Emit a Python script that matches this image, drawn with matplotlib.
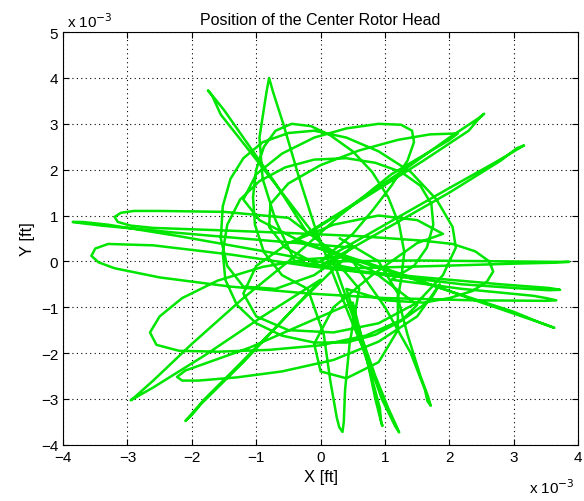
import matplotlib
matplotlib.use("Agg")
import matplotlib.pyplot as plt

plt.rcParams['font.family'] = ['Liberation Sans', 'DejaVu Sans']

# rotor head path, units of 1e-3 ft
seg1_x = [0.3, -0.5, -1.5, -2.5, -2.9, -3.1, -3.2, -3.15, -2.95, -2.6, -1.6, -0.5, 0.6, 1.6]
seg1_y = [0.1, 0.95, 1.08, 1.1, 1.1, 1.06, 0.97, 0.86, 0.78, 0.73, 0.68, 0.62, 0.55, 0.45]
seg2_x = [2.05, 2.4, 2.62, 2.68, 2.58, 2.35, 2.0, 1.6, 1.0, 0.4]
seg2_y = [0.38, 0.22, 0.0, -0.22, -0.45, -0.65, -0.8, -0.9, -0.85, -0.6]
seg3_x = [0.6, 0.85, 1.05, 1.18, 1.22, 1.16, 0.95, 0.75, 0.45, 0.2]
seg3_y = [-1.5, -2.5, -3.2, -3.6, -3.73, -3.6, -3.0, -2.2, -1.2, -0.3]
seg4_x = [-0.1, -0.35, -0.58, -0.74, -0.8, -0.84, -0.95, -0.9, -0.7, -0.4]
seg4_y = [0.8, 1.9, 3.0, 3.7, 4.0, 3.7, 2.7, 1.8, 0.9, 0.0]
seg5_x = [0.5, 1.6, 2.8, 3.55, 3.72, 3.55, 3.2, 2.2, 1.0, -0.2]
seg5_y = [-0.2, -0.35, -0.5, -0.58, -0.62, -0.63, -0.6, -0.5, -0.3, -0.1]
seg6_x = [-1.4, -2.6, -3.3, -3.5, -3.56, -3.45, -3.2, -2.5, -1.4, -0.2, 1.0, 2.4, 3.5, 3.66, 3.5, 3.3, 2.2, 1.1]
seg6_y = [0.15, 0.35, 0.38, 0.28, 0.12, -0.02, -0.15, -0.35, -0.55, -0.7, -0.8, -0.85, -0.86, -0.85, -0.8, -0.75, -0.6, -0.4]
seg7_x = [1.45, 1.65, 1.75, 1.72, 1.55, 1.25, 0.85, 0.4, -0.1, -0.55, -0.95, -1.25, -1.45, -1.52, -1.48, -1.3, -1.0, -0.6, -0.1, 0.4, 0.85, 1.25, 1.5]
seg7_y = [-0.1, 0.3, 0.8, 1.25, 1.65, 1.95, 2.15, 2.25, 2.22, 2.05, 1.75, 1.35, 0.8, 0.2, -0.4, -0.95, -1.35, -1.62, -1.77, -1.77, -1.6, -1.3, -0.95]
seg8_x = [0.8, 0.0, 1.2, 2.4, 3.5, 3.63, 3.45, 3.0, 1.9, 0.7, -0.4]
seg8_y = [-0.2, 0.3, -0.25, -0.85, -1.38, -1.45, -1.36, -1.1, -0.6, -0.05, 0.45]
seg9_x = [0.4, 1.3, 2.0, 2.45, 2.54, 2.45, 2.3, 1.6, 0.7, -0.2]
seg9_y = [1.15, 2.0, 2.7, 3.12, 3.22, 3.1, 2.85, 2.2, 1.4, 0.6]
seg10_x = [-0.7, -1.15, -1.5, -1.7, -1.75, -1.68, -1.55, -1.1, -0.6, 0.0, 0.6]
seg10_y = [1.7, 2.6, 3.3, 3.65, 3.73, 3.6, 3.2, 2.4, 1.5, 0.4, -0.6]
seg11_x = [0.45, 0.38, 0.36, 0.34, 0.29, 0.25, 0.15, 0.05, -0.2]
seg11_y = [-1.8, -2.8, -3.5, -3.72, -3.62, -3.4, -2.6, -1.6, -0.6]
seg12_x = [-0.6, -0.88, -1.02, -1.05, -1.0, -0.88, -0.7, -0.45, -0.15, 0.15, 0.5, 0.8, 1.05, 1.22, 1.3, 1.25, 1.2]
seg12_y = [-0.3, 0.2, 0.8, 1.4, 2.0, 2.5, 2.85, 3.0, 2.95, 2.75, 2.4, 1.95, 1.4, 0.8, 0.2, -0.4, -0.8]
seg13_x = [1.35, 1.55, 1.67, 1.71, 1.66, 1.62, 1.4, 1.0, 0.5]
seg13_y = [-1.6, -2.5, -2.95, -3.15, -3.05, -2.8, -2.0, -1.0, 0.0]
seg14_x = [-0.4, -0.95, -1.2, -1.0, -0.6, -0.1, 0.4, 0.9, 1.25, 1.42, 1.45, 1.35, 1.1, 0.8, 0.5]
seg14_y = [0.5, 0.9, 1.35, 1.9, 2.35, 2.7, 2.9, 3.0, 2.98, 2.85, 2.6, 2.2, 1.65, 1.1, 0.6]
seg15_x = [0.0, 1.0, 2.0, 2.7, 3.05, 3.16, 3.05, 2.8, 2.0, 1.0, 0.0]
seg15_y = [0.0, 0.8, 1.6, 2.15, 2.44, 2.53, 2.47, 2.2, 1.5, 0.7, -0.1]
seg16_x = [-0.55, -0.8, -0.78, -0.5, 0.0, 0.6, 1.2, 1.7, 2.13, 2.0, 1.7, 1.1, 0.3, -0.5]
seg16_y = [0.3, 0.75, 1.25, 1.7, 2.1, 2.42, 2.65, 2.77, 2.79, 2.65, 2.4, 1.9, 1.0, 0.0]
seg17_x = [-1.2, -2.0, -2.6, -2.88, -2.95, -2.85, -2.6, -1.8, -0.9, 0.0]
seg17_y = [-0.8, -1.8, -2.6, -2.95, -3.03, -2.95, -2.75, -2.05, -1.2, -0.4]
seg18_x = [-0.6, -1.3, -1.8, -2.05, -2.1, -2.0, -1.85, -1.2, -0.4, 0.4]
seg18_y = [-1.3, -2.3, -3.0, -3.4, -3.48, -3.35, -3.1, -2.2, -1.0, 0.1]
seg19_x = [-0.2, -0.9, -1.6, -2.15, -2.5, -2.65, -2.55, -2.2, -1.6, -0.8, 0.0, 0.7, 1.3, 1.7, 1.85]
seg19_y = [0.05, -0.12, -0.42, -0.8, -1.2, -1.55, -1.82, -1.95, -1.97, -1.93, -1.83, -1.62, -1.25, -0.85, -0.5]
seg20_x = [1.5, 0.9, 0.2, -0.6, -1.3, -1.9, -2.15, -2.23, -2.1, -1.7, -1.1, -0.4, 0.5]
seg20_y = [-1.2, -1.75, -2.15, -2.4, -2.53, -2.6, -2.6, -2.52, -2.38, -2.18, -1.88, -1.45, -0.9]
seg21_x = [0.7, 0.85, 0.93, 0.96, 0.94, 0.92, 0.75, 0.5, 0.2]
seg21_y = [-2.0, -3.0, -3.45, -3.59, -3.5, -3.2, -2.3, -1.2, 0.0]
seg22_x = [1.5, 2.8, 3.6, 3.86, 3.6, 3.0, 1.8, 0.5]
seg22_y = [0.02, 0.0, -0.01, -0.01, -0.03, -0.05, -0.1, -0.15]
seg23_x = [-0.8, -2.2, -3.3, -3.7, -3.85, -3.7, -3.4, -2.2, -0.8, 0.5]
seg23_y = [0.2, 0.55, 0.8, 0.86, 0.86, 0.83, 0.78, 0.62, 0.45, 0.3]
seg24_x = [-0.1, -0.7, -1.2, -1.45, -1.55, -1.52, -1.4, -1.2, -0.9, -0.5, -0.1, 0.4, 0.9, 1.4, 1.8, 2.05, 2.1]
seg24_y = [-0.3, -0.6, -0.55, -0.1, 0.5, 1.2, 1.8, 2.25, 2.6, 2.8, 2.85, 2.7, 2.4, 1.95, 1.35, 0.75, 0.3]
seg25_x = [1.9, 1.5, 0.9, 0.2, -0.5, -1.0, -1.2, -1.0, -0.5, 0.2, 0.9, 1.5, 1.9]
seg25_y = [-0.3, -0.9, -1.35, -1.55, -1.5, -1.2, -0.7, -0.1, 0.4, 0.8, 1.0, 0.9, 0.6]
seg26_x = [1.5, 0.8, 0.2, -0.1, 0.0, 0.4, 0.9, 1.2, 1.2, 0.9, 0.3]
seg26_y = [0.4, -0.3, -1.0, -1.8, -2.4, -2.55, -2.2, -1.5, -0.7, 0.0, 0.5]

x_ticks = [-4, -3, -2, -1, 0, 1, 2, 3, 4]
y_ticks = [-4, -3, -2, -1, 0, 1, 2, 3, 4, 5]

segs_x = [seg1_x, seg2_x, seg3_x, seg4_x, seg5_x, seg6_x, seg7_x, seg8_x, seg9_x, seg10_x, seg11_x, seg12_x,
          seg13_x, seg14_x, seg15_x, seg16_x, seg17_x, seg18_x, seg19_x, seg20_x, seg21_x, seg22_x, seg23_x,
          seg24_x, seg25_x, seg26_x]
segs_y = [seg1_y, seg2_y, seg3_y, seg4_y, seg5_y, seg6_y, seg7_y, seg8_y, seg9_y, seg10_y, seg11_y, seg12_y,
          seg13_y, seg14_y, seg15_y, seg16_y, seg17_y, seg18_y, seg19_y, seg20_y, seg21_y, seg22_y, seg23_y,
          seg24_y, seg25_y, seg26_y]

# one continuous trajectory
x_pos = []
y_pos = []
for sx, sy in zip(segs_x, segs_y):
    x_pos += sx
    y_pos += sy

fig = plt.figure(figsize=(5.84, 5.02), dpi=100)
ax = fig.add_axes([0.108, 0.112, 0.882, 0.822])

ax.plot(x_pos, y_pos, color='#00e600', linewidth=1.8, solid_joinstyle='round')

ax.set_xlim(-4, 4)
ax.set_ylim(-4, 5)
ax.set_xticks(x_ticks)
ax.set_yticks(y_ticks)
ax.tick_params(direction='in', labelsize=11, length=4, top=True, right=True)
ax.grid(True, linestyle=(0, (1, 3)), color='black', linewidth=0.8)

ax.set_title("Position of the Center Rotor Head", fontsize=11.5)
ax.set_xlabel("X [ft]", fontsize=12)
ax.set_ylabel("Y [ft]", fontsize=12)

fig.text(0.115, 0.945, r'x 10$^{-3}$', fontsize=11)
fig.text(0.905, 0.015, r'x 10$^{-3}$', fontsize=11)

plt.savefig("out.png")
